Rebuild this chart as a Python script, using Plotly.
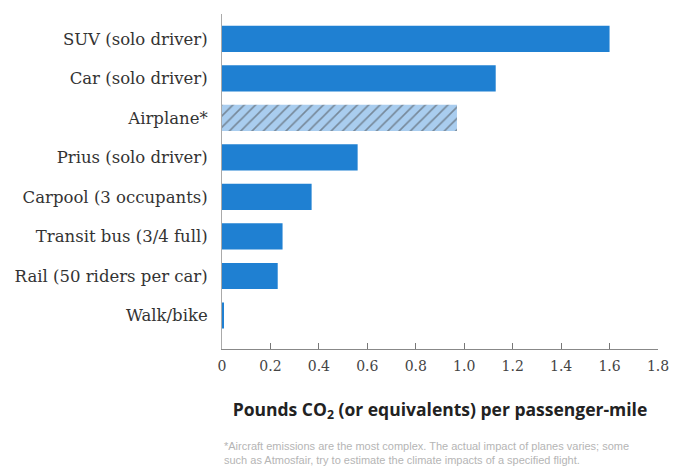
import plotly.graph_objects as go

categories = ["SUV (solo driver)", "Car (solo driver)", "Airplane*", "Prius (solo driver)",
              "Carpool (3 occupants)", "Transit bus (3/4 full)", "Rail (50 riders per car)", "Walk/bike"]
values = [1.60, 1.13, 0.97, 0.56, 0.37, 0.25, 0.23, 0.006]
tick_vals = [0, 0.2, 0.4, 0.6, 0.8, 1.0, 1.2, 1.4, 1.6, 1.8]
tick_text = ["0", "0.2", "0.4", "0.6", "0.8", "1.0", "1.2", "1.4", "1.6", "1.8"]
footnote = ("*Aircraft emissions are the most complex. The actual impact of planes varies; some<br>"
            "such as Atmosfair, try to estimate the climate impacts of a specified flight.")

blue = "#1f80d2"
colors = [blue, blue, "#a9cdef", blue, blue, blue, blue, blue]
patterns = ["", "", "/", "", "", "", "", ""]

fig = go.Figure()
fig.add_trace(go.Bar(
    x=values, y=categories, orientation="h", width=0.66,
    marker=dict(color=colors, line=dict(width=0),
                pattern=dict(shape=patterns, fgcolor="#5a9fdf", bgcolor="#a9cdef",
                             size=8, solidity=0.2)),
))

fig.update_layout(
    width=681, height=473,
    margin=dict(l=222, r=15, t=14, b=124),
    paper_bgcolor="white", plot_bgcolor="white",
    showlegend=False,
    bargap=0.3,
)
fig.update_xaxes(
    range=[0, 1.8], tickvals=tick_vals, ticktext=tick_text,
    showgrid=False, zeroline=False, showline=True, linecolor="#888", linewidth=1,
    ticks="inside", ticklen=6, tickcolor="#777",
    tickfont=dict(family="DejaVu Serif", size=14, color="#444"),
    ticklabelstandoff=4,
    title=dict(text="<b>Pounds CO<sub>2</sub> (or equivalents) per passenger-mile</b>",
               font=dict(family="Open Sans", size=17.5, color="#222"), standoff=30),
)
fig.update_yaxes(
    range=[7.85, -0.63], showgrid=False, zeroline=False,
    showline=True, linecolor="#aaa", linewidth=1, ticks="",
    tickfont=dict(family="DejaVu Serif", size=16.5, color="#333"),
    ticklabelstandoff=10,
)
fig.add_annotation(
    xref="paper", yref="paper", x=0, y=-0.265, xanchor="left", yanchor="top",
    align="left", showarrow=False,
    text=footnote,
    font=dict(family="Liberation Sans", size=11, color="#b5b5b5"),
)
fig.write_html("out.html")
